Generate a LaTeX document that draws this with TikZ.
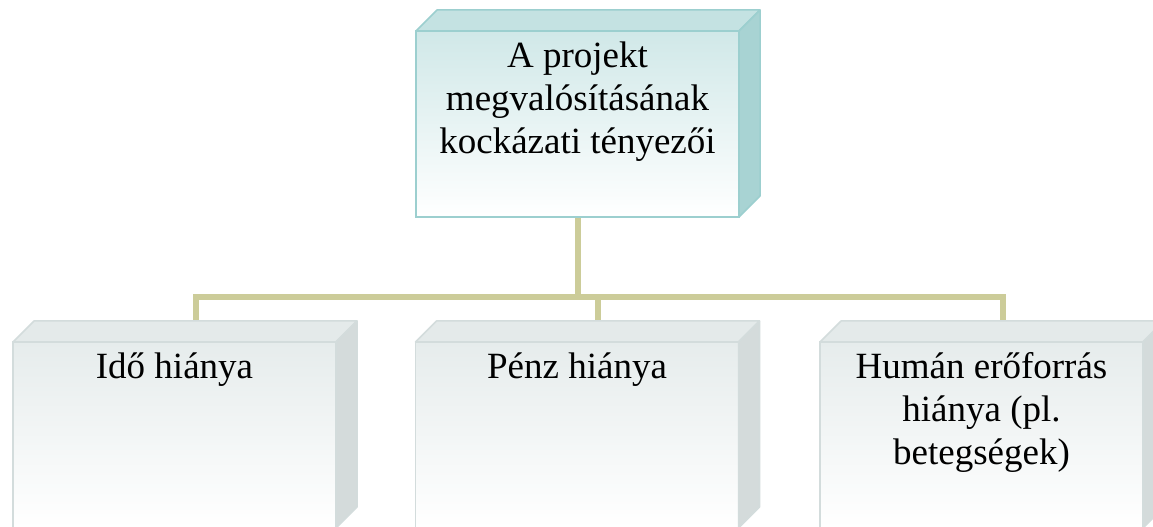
\documentclass[tikz,border=0pt]{standalone}
\usepackage{fontspec}
\setmainfont{Liberation Serif}
\usetikzlibrary{calc}
\definecolor{connC}{HTML}{CCCC99}
\definecolor{tealB}{HTML}{9CCFCF}
\definecolor{tealF}{HTML}{D0E8E8}
\definecolor{tealT}{HTML}{C4E2E2}
\definecolor{tealS}{HTML}{A8D3D3}
\definecolor{greyB}{HTML}{D3DCDC}
\definecolor{greyF}{HTML}{E6ECEC}
\definecolor{greyT}{HTML}{E4EAEA}
\definecolor{greyS}{HTML}{D4DBDB}
\pgfdeclarelayer{bg}
\pgfsetlayers{bg,main}
\newcommand\boxfaces[4]{%
  \filldraw[fill=#2,draw=#4,line width=1.5pt,line join=round]
    (#1.north west) -- ++(21,21) -- ($(#1.north east)+(21,21)$) -- (#1.north east) -- cycle;
  \filldraw[fill=#3,draw=#4,line width=1.5pt,line join=round]
    (#1.north east) -- ++(21,21) -- ($(#1.south east)+(21,21)$) -- (#1.south east) -- cycle;
}
\begin{document}
\begin{tikzpicture}[x=1pt,y=1pt,
  frontbox/.style={rectangle,line width=1.5pt,minimum width=323pt,minimum height=186pt,inner sep=0pt,outer sep=0pt},
  tealbox/.style={frontbox,draw=tealB,top color=tealF,middle color=tealF!40!white,bottom color=white},
  greybox/.style={frontbox,draw=greyB,top color=greyF,middle color=greyF!45!white,bottom color=white},
  boxtext/.style={anchor=north,inner sep=0pt,align=center,font=\fontsize{37}{43}\selectfont},
  connector/.style={draw=connC,line width=6pt,line join=miter}]
\useasboundingbox (0,0) rectangle (1153,527);
\node[tealbox] (top) at (577.5,403) {};
\boxfaces{top}{tealT}{tealS}{tealB}
\node[greybox] (b1) at (174.5,92) {};
\boxfaces{b1}{greyT}{greyS}{greyB}
\node[greybox] (b2) at (577,92) {};
\boxfaces{b2}{greyT}{greyS}{greyB}
\node[greybox] (b3) at (981.5,92) {};
\boxfaces{b3}{greyT}{greyS}{greyB}
\node[boxtext] (t0) at ($(top.north)+(0,-6)$) {\rule{0pt}{30pt}A projekt\\megvalósításának\\kockázati tényezői};
\node[boxtext] (t1) at ($(b1.north)+(0,-6)$) {\rule{0pt}{30pt}Idő hiánya};
\node[boxtext] (t2) at ($(b2.north)+(0,-6)$) {\rule{0pt}{30pt}Pénz hiánya};
\node[boxtext] (t3) at ($(b3.north)+(0,-6)$) {\rule{0pt}{30pt}Humán erőforrás\\hiánya (pl.\\betegségek)};
\begin{pgfonlayer}{bg}
\fill[white] (0,0) rectangle (1153,527);
\draw[connector] (top.south) -- ++(0,-80) -| ($(b1.north)+(21,21)$);
\draw[connector] (top.south) -- ++(0,-80) -| ($(b2.north)+(21,21)$);
\draw[connector] (top.south) -- ++(0,-80) -| ($(b3.north)+(21,21)$);
\end{pgfonlayer}
\end{tikzpicture}
\end{document}
